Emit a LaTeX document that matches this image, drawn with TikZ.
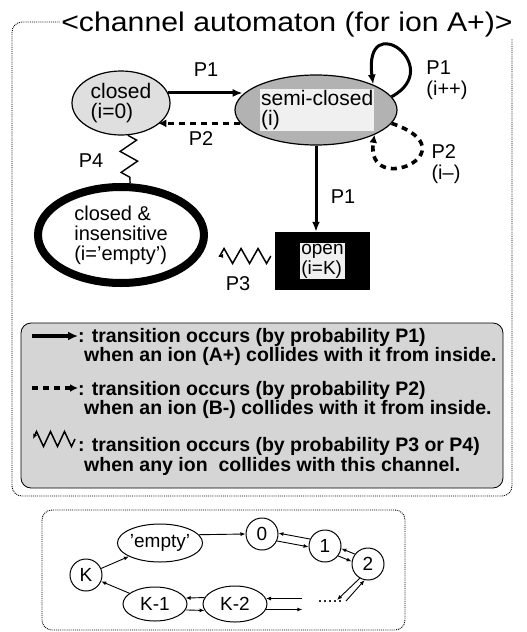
\documentclass[tikz,border=0pt]{standalone}
\usepackage{fontspec}
\setmainfont{Liberation Sans}
\newfontfamily\titlefont[FakeStretch=1.12]{Liberation Sans}
\usetikzlibrary{arrows.meta,shapes.geometric,decorations.pathmorphing,calc}
\begin{document}
\begin{tikzpicture}[x=1pt,y=-1pt,
  txt/.style={font=\fontsize{21}{20}\selectfont, inner sep=0pt},
  plabel/.style={font=\fontsize{20}{21}\selectfont, inner sep=0pt},
  leg/.style={font=\bfseries\fontsize{19.5}{19}\selectfont, inner sep=0pt, anchor=west},
  frame/.style={draw, densely dotted, line width=0.9pt, rounded corners=10pt},
  heavy/.style={line width=3pt, -{Latex[length=10pt,width=8pt]}},
  dashy/.style={line width=3.6pt, dash pattern=on 6pt off 5pt, -{Latex[length=8pt,width=8pt]}},
  zzline/.style={line width=1.5pt, decorate, decoration={zigzag, segment length=#1, amplitude=7.5pt}},
  zzline/.default=17pt,
  zzlong/.style={line width=1.4pt, decorate, decoration={zigzag, segment length=21pt, amplitude=8.5pt}},
  sarrow/.style={line width=0.9pt, -{Latex[length=5pt,width=4pt]}},
  circ/.style={draw, circle, line width=1pt, minimum size=32pt, inner sep=0pt, font=\fontsize{19}{19}\selectfont},
  oval/.style={draw, ellipse, line width=1pt, inner sep=0pt, font=\fontsize{19}{19}\selectfont},
]
\useasboundingbox (0,0) rectangle (527,632);
\fill[white] (0,0) rectangle (527,632);

% automaton frame and its title
\draw[frame] (12,22) rectangle (512,496);
\node[fill=white, inner xsep=1pt, inner ysep=2pt, anchor=base,
      font=\titlefont\fontsize{27}{27}\selectfont] (title) at (287,31)
      {<channel automaton (for ion A+)>};

% legend panel
\draw[line width=0.8pt, fill=gray!33, rounded corners=10pt] (21,323) rectangle (503,488);

% channel states
\node[ellipse, draw, line width=1.2pt, fill=gray!25, minimum width=98pt, minimum height=64pt,
      inner sep=0pt, align=left, txt] (closed) at (121,103) {closed\\(i=0)};
\node[ellipse, draw, line width=1.2pt, fill=gray!60, minimum width=162pt, minimum height=70pt,
      inner sep=0pt] (semi) at (316,110) {};
\node[txt, fill=gray!12, inner sep=1pt, align=left, anchor=west] (semitxt) at (260,110) {semi-closed\\(i)};
\node[ellipse, draw, line width=8pt, fill=white, minimum width=166pt, minimum height=96pt,
      inner sep=0pt, align=left, txt, font=\fontsize{20}{20}\selectfont] (cins) at (121,235)
      {closed \&\\insensitive\\(i='empty')};
\node[fill=black, minimum width=95pt, minimum height=58pt, inner sep=0pt] (open) at (322.5,261) {};
\node[txt, font=\fontsize{19}{20}\selectfont, fill=gray!12, inner sep=1pt, align=left] (opentxt) at (open) {open\\(i=K)};

% transitions
\draw[heavy] (closed.12) -- (closed.12 -| semi.168);
\draw[dashy] (semi.190) -- (semi.190 -| closed.-30);
\draw[heavy] (semi.10) .. controls ($(semi.10)+(55,-30)$) and ($(semi.24)+(-10,-78)$) .. (semi.24);
\draw[dashy] (semi.-10) .. controls ($(semi.-10)+(82,28)$) and ($(semi.-23)+(-10,64)$) .. (semi.-23);
\draw[heavy] (semi.south) -- (semi.south |- open.north);
\draw[zzlong] (closed.-78) -- (cins.80);
\draw[zzline, -{Latex[length=5pt,width=4pt]}] ($(open.west)+(-4,-5)$) -- ($(open.west -| cins.east)+(10,-5)$);

% transition labels
\node[plabel] (lP1a) at (206,70) {P1};
\node[plabel] (lP2a) at (201,139) {P2};
\node[plabel, align=left] (lP1b) at (447,80) {P1\\(i++)};
\node[plabel, align=left] (lP2b) at (446,164) {P2\\(i--)};
\node[plabel] (lP4) at (91,161) {P4};
\node[plabel] (lP3) at (238,284) {P3};
\node[plabel] (lP1c) at (343,197) {P1};

% legend entries
\coordinate (la1) at (32,336); \coordinate (la2) at (78,336);
\draw[line width=4pt, -{Latex[length=10pt,width=9pt]}] (la1) -- (la2);
\node[leg] (leg1a) at (78,337) {: transition occurs (by probability P1)};
\node[leg] (leg1b) at (84,356) {when an ion (A+) collides with it from inside.};
\coordinate (lb1) at (32,388); \coordinate (lb2) at (78,388);
\draw[dashy] (lb1) -- (lb2);
\node[leg] (leg2a) at (78,390) {: transition occurs (by probability P2)};
\node[leg] (leg2b) at (84,409) {when an ion (B-) collides with it from inside.};
\coordinate (lc1) at (75,439); \coordinate (lc2) at (33,439);
\draw[zzline=14pt, -{Latex[length=5pt,width=4pt]}] (lc1) -- (lc2);
\node[leg] (leg3a) at (78,446) {: transition occurs (by probability P3 or P4)};
\node[leg] (leg3b) at (84,466) {when any ion\ \ collides with this channel.};

% state cycle
\draw[frame] (42,510) rectangle (405,630);
\node[oval, minimum width=84pt, minimum height=38pt] (empty) at (160,543) {'empty'};
\node[circ] (n0) at (262,534) {0};
\node[circ] (n1) at (325,546) {1};
\node[circ] (n2) at (368,564) {2};
\node[circ] (kk) at (86,575) {K};
\node[oval, minimum width=64pt, minimum height=34pt] (k1) at (155,604) {K-1};
\node[oval, minimum width=64pt, minimum height=36pt] (k2) at (235,604) {K-2};
\node[inner sep=0pt, font=\fontsize{18}{18}\selectfont] (dots) at (330,602) {.....};
\coordinate (d1) at (337,600); \coordinate (d2) at (346,601);

\draw[sarrow] (empty.12) -- (n0.west);
\draw[sarrow] (n1.155) -- (n0.3);
\draw[sarrow] (n0.-25) -- (n1.183);
\draw[sarrow] (n2.143) -- (n1.-9);
\draw[sarrow] (n1.-37) -- (n2.171);
\draw[sarrow] (n2.240) -- (d1);
\draw[sarrow] (d2) -- (n2.258);
\draw[sarrow] ($(k2.10 -| dots.west)+(-15,0)$) -- (k2.10);
\draw[sarrow] (k2.-10) -- ($(k2.-10 -| dots.west)+(-15,0)$);
\draw[sarrow] (k2.168) -- (k1.11);
\draw[sarrow] (k1.-11) -- (k2.192);
\draw[sarrow] (k1) -- (kk);
\draw[sarrow] (kk) -- (empty);
\end{tikzpicture}
\end{document}
